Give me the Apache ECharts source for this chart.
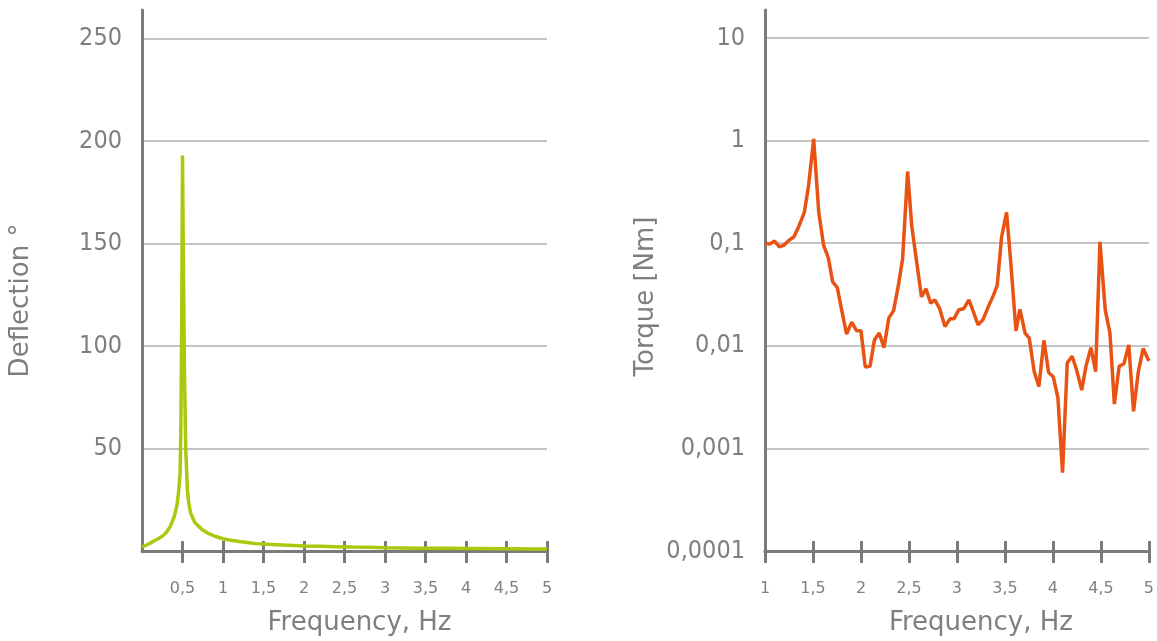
<!DOCTYPE html>
<html>
<head>
<meta charset="utf-8">
<script src="https://cdn.jsdelivr.net/npm/echarts@6/dist/echarts.min.js"></script>
<style>
html,body{margin:0;padding:0;background:#fff;}
#c{width:1157px;height:641px;}
</style>
</head>
<body>
<div id="c"></div>
<script>
// ---- data ----
const leftFreq = [0, 0.05, 0.1, 0.15, 0.2, 0.25, 0.3, 0.35, 0.4, 0.43, 0.45, 0.47, 0.48, 0.49, 0.5, 0.51, 0.525, 0.54, 0.56, 0.575, 0.6, 0.65, 0.7, 0.75, 0.8, 0.9, 1.0, 1.1, 1.2, 1.3, 1.4, 1.5, 1.6, 1.8, 2.0, 2.2, 2.4, 2.6, 2.8, 3.0, 3.2, 3.4, 3.6, 3.8, 4.0, 4.2, 4.4, 4.6, 4.8, 5.0];
const leftDeflection = [2.0, 2.8, 3.8, 5.0, 6.0, 7.2, 9.0, 12, 17, 22, 28, 38, 60, 110, 193, 145, 85, 50, 30, 24, 18.5, 14, 12, 10.2, 9, 7.2, 6.0, 5.2, 4.6, 4.1, 3.6, 3.4, 3.2, 2.8, 2.4, 2.3, 2.1, 1.9, 1.8, 1.6, 1.5, 1.4, 1.3, 1.3, 1.2, 1.2, 1.1, 1.1, 1.0, 1.0];

const rightFreq = [1.0, 1.05, 1.1, 1.15, 1.2, 1.25, 1.3, 1.35, 1.41, 1.455, 1.507, 1.56, 1.61, 1.66, 1.705, 1.753, 1.8, 1.85, 1.903, 1.955, 2.0, 2.045, 2.094, 2.14, 2.19, 2.24, 2.29, 2.34, 2.39, 2.434, 2.486, 2.528, 2.58, 2.63, 2.677, 2.726, 2.77, 2.82, 2.875, 2.93, 2.97, 3.02, 3.07, 3.125, 3.17, 3.22, 3.27, 3.326, 3.38, 3.42, 3.465, 3.517, 3.56, 3.615, 3.656, 3.71, 3.753, 3.805, 3.854, 3.906, 3.955, 4.003, 4.052, 4.1, 4.149, 4.2, 4.247, 4.3, 4.344, 4.396, 4.445, 4.49, 4.545, 4.594, 4.64, 4.69, 4.74, 4.79, 4.84, 4.89, 4.94, 5.0];
const rightTorque = [0.1, 0.098, 0.105, 0.092, 0.096, 0.107, 0.115, 0.144, 0.2, 0.37, 1.04, 0.2, 0.096, 0.072, 0.042, 0.037, 0.022, 0.013, 0.017, 0.014, 0.014, 0.0062, 0.0063, 0.0114, 0.0133, 0.0096, 0.0186, 0.022, 0.039, 0.071, 0.5, 0.15, 0.066, 0.030, 0.036, 0.026, 0.028, 0.023, 0.0154, 0.0184, 0.0184, 0.0225, 0.023, 0.028, 0.0216, 0.016, 0.0179, 0.024, 0.031, 0.039, 0.115, 0.2, 0.066, 0.014, 0.0227, 0.0133, 0.0119, 0.0056, 0.004, 0.0113, 0.0055, 0.005, 0.0031, 0.00058, 0.0068, 0.0079, 0.0058, 0.0037, 0.0063, 0.0096, 0.0056, 0.103, 0.0224, 0.0133, 0.0027, 0.0063, 0.0067, 0.0102, 0.0023, 0.0056, 0.0094, 0.0071];

const leftXTicks = [0.5, 1, 1.5, 2, 2.5, 3, 3.5, 4, 4.5, 5];
const rightXTicks = [1, 1.5, 2, 2.5, 3, 3.5, 4, 4.5, 5];
const leftYLabels = [50, 100, 150, 200, 250];
const rightYLabels = [0.0001, 0.001, 0.01, 0.1, 1, 10];

const xTitle = 'Frequency, Hz';
const leftYTitle = 'Deflection °';
const rightYTitle = 'Torque [Nm]';

// ---- styles ----
const TXT = '#7f7f7f';
const AXIS = '#7a7a7a';
const GRID = '#b0b0b0';
const FONT = 'DejaVu Sans';
const COND = "'DejaVu Sans Condensed', 'DejaVu Sans'";

function comma(v) { return String(+v.toFixed(6)).replace('.', ','); }
function logLabel(v) {
  const e = Math.round(Math.log10(v));
  if (Math.abs(Math.log10(v) - e) > 0.01) return '';
  if (e >= 0) return String(Math.pow(10, e));
  return '0,' + '0'.repeat(-e - 1) + '1';
}
function pairs(xs, ys) { return xs.map((x, i) => [x, ys[i]]); }

function xAxes(gridIndex, min, max, ticks, namePadLeft) {
  return [{
    type: 'value', gridIndex, min, max, interval: 0.5,
    name: xTitle, nameLocation: 'middle', nameGap: 59,
    nameTextStyle: { color: TXT, fontFamily: FONT, fontSize: 26, padding: [0, 0, 0, namePadLeft] },
    axisLine: { show: true, lineStyle: { color: AXIS, width: 3 } },
    axisTick: { show: true, inside: false, length: 12, customValues: ticks, lineStyle: { color: AXIS, width: 3 } },
    axisLabel: { show: true, margin: 30, customValues: ticks, color: TXT, fontFamily: FONT, fontSize: 16, formatter: comma },
    splitLine: { show: false }
  }, {
    type: 'value', gridIndex, min, max, interval: 0.5, position: 'bottom',
    axisLine: { show: false },
    axisTick: { show: true, inside: true, length: 10, customValues: ticks, lineStyle: { color: AXIS, width: 3 } },
    axisLabel: { show: false },
    splitLine: { show: false }
  }];
}

const chart = echarts.init(document.getElementById('c'), null, { renderer: 'canvas' });
chart.setOption({
  backgroundColor: '#ffffff',
  animation: false,
  grid: [
    { left: 142, right: 610, top: 10, bottom: 89 },
    { left: 765, right: 8, top: 10, bottom: 89 }
  ],
  xAxis: [].concat(xAxes(0, 0, 5, leftXTicks, 30), xAxes(1, 1, 5, rightXTicks, 48)),
  yAxis: [{
    type: 'value', gridIndex: 0, min: 0, max: 264, interval: 50,
    name: leftYTitle, nameLocation: 'middle', nameGap: 108, nameRotate: 90,
    nameTextStyle: { color: TXT, fontFamily: FONT, fontSize: 26, padding: [0, 40, 0, 0] },
    axisLine: { show: true, lineStyle: { color: AXIS, width: 3 } },
    axisTick: { show: false },
    axisLabel: { margin: 20, customValues: leftYLabels, color: TXT, fontFamily: COND, fontSize: 25 },
    splitLine: { show: true, showMinLine: false, showMaxLine: false, lineStyle: { color: GRID, width: 1.5 } }
  }, {
    type: 'log', gridIndex: 1, logBase: 10, min: 0.0001, max: 18.75,
    name: rightYTitle, nameLocation: 'middle', nameGap: 106, nameRotate: 90,
    nameTextStyle: { color: TXT, fontFamily: FONT, fontSize: 26, padding: [0, 32, 0, 0] },
    axisLine: { show: true, lineStyle: { color: AXIS, width: 3 } },
    axisTick: { show: false },
    axisLabel: { margin: 20, customValues: rightYLabels, color: TXT, fontFamily: COND, fontSize: 25, formatter: logLabel },
    splitLine: { show: true, showMinLine: false, showMaxLine: false, lineStyle: { color: GRID, width: 1.5 } }
  }],
  series: [{
    type: 'line', xAxisIndex: 0, yAxisIndex: 0,
    data: pairs(leftFreq, leftDeflection),
    showSymbol: false, symbol: 'none',
    lineStyle: { color: '#aac80e', width: 3.5 },
    itemStyle: { color: '#aac80e' }
  }, {
    type: 'line', xAxisIndex: 2, yAxisIndex: 1,
    data: pairs(rightFreq, rightTorque),
    showSymbol: false, symbol: 'none',
    lineStyle: { color: '#e85314', width: 3.5 },
    itemStyle: { color: '#e85314' }
  }]
});
</script>
</body>
</html>
